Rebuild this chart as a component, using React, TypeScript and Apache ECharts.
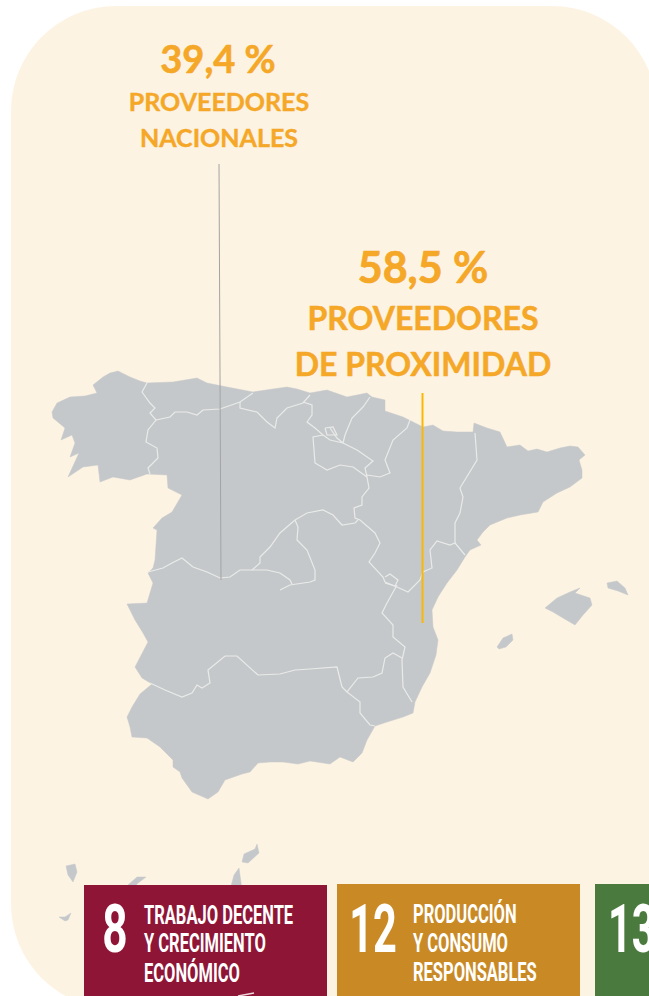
import React, { useEffect, useRef } from "react";
import * as echarts from "echarts";

type Pt = [number, number];

// Headline figures and their labels
const nationalFigure = ["39,4 %", "PROVEEDORES", "NACIONALES"];
const proximityFigure = ["58,5 %", "PROVEEDORES", "DE PROXIMIDAD"];

// SDG tiles
const sdg8 = ["8", "TRABAJO DECENTE", "Y CRECIMIENTO", "ECONÓMICO"];
const sdg12 = ["12", "PRODUCCIÓN", "Y CONSUMO", "RESPONSABLES"];
const sdg13 = ["13"];

// Land outlines
const peninsula: Pt[] = [
  [52,412],[57,403],[70,397],[85,396],[97,393],[93,385],[103,377],[110,373],[118,371],[130,377],[140,381],[147,383],[173,382],[197,378],[207,383],[227,387],[253,392],[273,389],[287,387],[297,389],[310,393],[327,390],[347,397],[367,393],[372,397],[385,400],[385,411],[403,417],[423,427],[433,425],[443,431],[457,432],[473,432],[474,423],[487,428],[500,432],[507,447],[520,445],[528,451],[537,449],[547,452],[560,448],[570,446],[578,447],[585,455],[579,460],[582,470],[582,478],[570,487],[557,493],[543,502],[538,512],[520,515],[507,518],[490,525],[483,532],[477,540],[481,545],[470,550],[465,557],[457,570],[447,583],[438,597],[432,610],[433,627],[438,640],[436,655],[430,673],[422,687],[415,702],[413,713],[403,717],[387,722],[375,726],[367,740],[362,753],[353,762],[340,757],[330,764],[310,761],[298,764],[283,762],[270,762],[258,763],[250,772],[242,774],[225,780],[218,792],[208,799],[192,792],[182,778],[180,772],[173,767],[173,760],[160,747],[147,738],[132,737],[130,727],[127,717],[132,707],[140,694],[152,684],[142,678],[135,667],[148,642],[143,633],[135,620],[127,604],[147,603],[153,583],[148,573],[153,568],[155,560],[157,530],[153,528],[162,518],[172,512],[182,495],[168,488],[167,475],[147,474],[130,480],[113,477],[100,482],[98,465],[83,467],[68,477],[79,453],[70,457],[75,443],[72,435],[61,440],[65,428],[53,418],
];
const mallorca: Pt[] = [[545,608],[557,598],[570,592],[580,588],[575,593],[590,598],[592,605],[583,615],[575,625],[563,618],[553,612]];
const menorca: Pt[] = [[607,583],[617,581],[625,588],[628,595],[618,591],[608,588]];
const ibiza: Pt[] = [[497,647],[503,638],[512,634],[513,640],[506,647],[499,649]];
const lanzarote: Pt[] = [[257,844],[259,853],[248,863],[242,862],[244,854],[255,849]];
const fuerteventura: Pt[] = [[239,868],[242,890],[230,890],[234,875]];
const granCanaria: Pt[] = [[128,885],[137,877],[146,877],[138,883],[132,890]];
const laPalma: Pt[] = [[66,866],[75,864],[77,872],[73,882],[68,875]];
const elHierro: Pt[] = [[59,917],[65,917],[71,913],[68,920],[65,921]];

// Regional boundaries
const boundaries: Pt[][] = [
  [[147,383],[142,392],[150,403],[155,408],[150,413],[156,420],[148,430],[146,442],[157,448],[158,458],[148,468],[150,474]],
  [[156,420],[170,417],[175,412],[187,412],[197,415],[203,410],[220,409],[240,402],[253,393]],
  [[240,402],[240,408],[257,412],[267,422],[275,428],[277,418],[287,408],[303,403],[310,395]],
  [[303,402],[312,405],[312,415],[307,422],[315,428],[323,435],[330,440],[343,443],[357,450],[373,461],[365,468],[367,477]],
  [[325,428],[333,427],[337,435],[327,435],[325,428]],
  [[323,435],[313,437],[315,463],[327,470],[340,465],[353,467],[367,477]],
  [[370,397],[363,407],[352,418],[345,435],[343,443]],
  [[330,428],[337,438],[343,443]],
  [[410,420],[407,428],[393,440],[385,460],[390,473],[380,477],[367,475]],
  [[367,477],[369,488],[362,497],[362,505],[354,508],[355,518],[360,520],[375,533],[380,543],[375,553],[369,562],[383,577],[385,582],[397,587]],
  [[295,520],[307,513],[323,510],[333,515],[342,525],[355,523],[358,520]],
  [[295,520],[280,533],[270,547],[260,557],[260,563],[252,570]],
  [[148,572],[163,568],[172,563],[182,558],[193,567],[207,572],[220,578],[230,577],[240,570],[252,570],[267,570],[280,573],[290,580],[292,584]],
  [[295,520],[298,527],[297,540],[307,550],[315,570],[315,580],[310,582],[290,585],[280,590]],
  [[397,585],[387,603],[382,613],[393,625],[393,637],[405,647],[402,660],[403,687],[412,702]],
  [[397,587],[408,592],[420,580],[423,572],[432,568],[430,550],[437,541],[450,545],[455,543],[465,555]],
  [[475,433],[477,460],[460,488],[463,497],[460,513],[455,523],[455,543]],
  [[385,577],[390,574],[398,580],[395,586],[385,583]],
  [[402,658],[393,653],[385,658],[382,673],[373,677],[358,678],[347,692],[360,702],[360,713],[370,725],[375,726]],
  [[150,683],[165,690],[182,697],[192,693],[197,685],[202,688],[210,683],[208,670],[225,656],[237,656],[258,675],[280,674],[295,670],[310,669],[337,667],[342,687],[347,692]],
];

const landNames = ["Península", "Mallorca", "Menorca", "Ibiza", "Lanzarote", "Fuerteventura", "Gran Canaria", "La Palma", "El Hierro"];
const landShapes = [peninsula, mallorca, menorca, ibiza, lanzarote, fuerteventura, granCanaria, laPalma, elHierro];

const flip = (p: Pt): Pt => [p[0], -p[1]];

const ORANGE = "#f5a727";
const BIG = "Lato";
const TILE = "Roboto";

function txt(text: string, x: number, y: number, size: number, fill: string, opts: any = {}) {
  const { scaleX = 1, align = "center", family = BIG, heavy = 0 } = opts;
  return {
    type: "text", x, y, z: 10, scaleX, silent: true,
    style: {
      text, fill, font: `bold ${size}px ${family}`, textAlign: align, textVerticalAlign: "middle",
      stroke: heavy ? fill : undefined, lineWidth: heavy,
    },
  };
}

export default function App() {
  const ref = useRef<HTMLDivElement>(null);
  useEffect(() => {
    document.body.style.margin = "0";
    const chart = echarts.init(ref.current!, undefined, { renderer: "svg" });
    const geojson: any = {
      type: "FeatureCollection",
      features: landShapes.map((ring, i) => ({
        type: "Feature",
        properties: { name: landNames[i] },
        geometry: { type: "Polygon", coordinates: [[...ring, ring[0]].map(flip)] },
      })),
    };
    echarts.registerMap("espana", geojson);
    const all = landShapes.flat();
    const xs = all.map((p) => p[0]);
    const ys = all.map((p) => p[1]);
    const left = Math.min(...xs);
    const top = Math.min(...ys);
    const width = Math.max(...xs) - left;
    const height = Math.max(...ys) - top;

    const tile = (x: number, y: number, w: number, h: number, fill: string) => ({
      type: "rect", z: 9, silent: true, shape: { x, y, width: w, height: h }, style: { fill },
    });
    const line = { family: TILE, align: "left", scaleX: 0.66 };
    const digit = { family: TILE, scaleX: 0.66 };

    chart.setOption({
      animation: false,
      backgroundColor: "#ffffff",
      geo: {
        map: "espana", left, top, width, height, aspectScale: 1, roam: false, silent: true,
        label: { show: false },
        itemStyle: { areaColor: "#c5c8cb", borderColor: "#c5c8cb", borderWidth: 0.5 },
        emphasis: { disabled: true },
        select: { disabled: true },
        z: 2,
      },
      series: [
        {
          type: "lines", coordinateSystem: "geo", polyline: true, silent: true, z: 3,
          lineStyle: { color: "#e9ebe8", width: 1.2, opacity: 1, curveness: 0 },
          data: boundaries.map((b) => ({ coords: b.map(flip) })),
        },
      ],
      graphic: {
        elements: [
          { type: "rect", z: 0, silent: true, shape: { x: 11, y: 6, width: 646, height: 1003, r: 105 }, style: { fill: "#fdf3e3" } },
          { type: "line", z: 10, silent: true, shape: { x1: 219, y1: 164, x2: 221, y2: 580 }, style: { stroke: "#a3a3a3", lineWidth: 1 } },
          { type: "line", z: 10, silent: true, shape: { x1: 422.5, y1: 393, x2: 422.5, y2: 623 }, style: { stroke: "#fbb800", lineWidth: 2 } },
          txt(nationalFigure[0], 218, 58, 38, ORANGE, { heavy: 0.6 }),
          txt(nationalFigure[1], 219, 101, 25, ORANGE, { heavy: 0.4 }),
          txt(nationalFigure[2], 219, 137, 25, ORANGE, { heavy: 0.4 }),
          txt(proximityFigure[0], 423, 266, 43, ORANGE, { heavy: 0.7 }),
          txt(proximityFigure[1], 423, 317, 32, ORANGE, { heavy: 0.5 }),
          txt(proximityFigure[2], 423, 363, 32, ORANGE, { heavy: 0.5 }),
          tile(84, 885, 243, 111, "#8f1537"),
          tile(337, 884, 243, 112, "#c98a25"),
          tile(595, 884, 60, 112, "#4a7a3d"),
          { type: "line", z: 10, silent: true, shape: { x1: 238, y1: 996, x2: 254, y2: 993 }, style: { stroke: "#f0d9de", lineWidth: 1.5 } },
          txt(sdg8[0], 115, 929, 67, "#ffffff", digit),
          txt(sdg8[1], 144, 915, 25, "#ffffff", line),
          txt(sdg8[2], 144, 943, 25, "#ffffff", line),
          txt(sdg8[3], 144, 973, 25, "#ffffff", line),
          txt(sdg12[0], 373, 929, 67, "#ffffff", { family: TILE, scaleX: 0.62 }),
          txt(sdg12[1], 413, 914, 25, "#ffffff", line),
          txt(sdg12[2], 413, 943, 25, "#ffffff", line),
          txt(sdg12[3], 413, 972, 25, "#ffffff", line),
          txt(sdg13[0], 608, 929, 67, "#ffffff", { family: TILE, align: "left", scaleX: 0.62 }),
        ],
      },
    });
    return () => chart.dispose();
  }, []);
  return <div ref={ref} style={{ position: "absolute", left: 0, top: 0, width: 649, height: 996 }} />;
}
